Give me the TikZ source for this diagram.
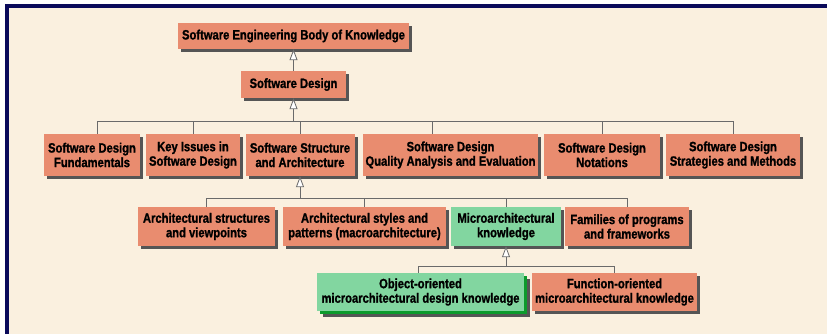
\documentclass[tikz,border=0pt]{standalone}
\usepackage{fontspec}
\setmainfont{Liberation Sans}[FakeStretch=0.83,BoldFeatures={FakeBold=1.2}]
\usetikzlibrary{arrows.meta,shadows}
\definecolor{salmon}{HTML}{E98C6F}
\definecolor{mint}{HTML}{82D6A0}
\definecolor{leaf}{HTML}{0C9A2C}
\definecolor{cream}{HTML}{FAF0DF}
\definecolor{navy}{HTML}{0A0A5A}
\definecolor{shade}{HTML}{555555}
\definecolor{wire}{HTML}{6A6A6A}
\tikzset{
  plain/.style={fill=salmon,inner sep=0pt,align=center,text=black,
    font=\fontsize{13.5}{14.5}\selectfont\bfseries},
  box/.style={plain,
    drop shadow={shadow xshift=3pt,shadow yshift=-3pt,fill=shade,opacity=1}},
  gbox/.style={box,fill=mint},
  conn/.style={draw=wire,line width=0.8pt},
  isa/.style={-{Triangle[open,length=11pt,width=8pt,fill=white]}}
}
\begin{document}
\begin{tikzpicture}[x=1pt,y=-1pt]
  \useasboundingbox (0,0) rectangle (827,334);
  % frame
  \draw[navy,line width=4pt,fill=cream] (7,6.3) rectangle (840,350);
  % top
  \path (293.5,36) node[box,minimum width=231pt,minimum height=26pt] (sebok) {Software Engineering Body of Knowledge};
  \path (293.5,84.5) node[box,minimum width=105pt,minimum height=27pt] (sd) {Software Design};
  % second row
  \path
  (92,155) node[box,minimum width=96pt,minimum height=42pt] (sdf) {Software Design\\Fundamentals}
  (193,155) node[box,minimum width=94pt,minimum height=42pt] (kis) {Key Issues in\\Software Design}
  (300,155) node[box,minimum width=109pt,minimum height=42pt] (ssa) {Software Structure\\and Architecture}
  (450.5,155) node[box,minimum width=175pt,minimum height=42pt] (qae) {Software Design\\Quality Analysis and Evaluation}
  (602,155) node[box,minimum width=116pt,minimum height=42pt] (not) {Software Design\\Notations}
  (733,155) node[box,minimum width=134pt,minimum height=42pt] (sam) {Software Design\\Strategies and Methods};
  % third row
  \path
  (206.5,226.5) node[box,minimum width=137pt,minimum height=39pt] (asv) {Architectural structures\\and viewpoints}
  (364.5,226.5) node[box,minimum width=163pt,minimum height=39pt] (asp) {Architectural styles and\\patterns (macroarchitecture)}
  (506,226.5) node[gbox,minimum width=110pt,minimum height=39pt] (mak) {Microarchitectural\\knowledge}
  (627,226.5) node[box,minimum width=124pt,minimum height=39pt] (fpf) {Families of programs\\and frameworks};
  % fourth row
  \path
  (420.5,292) node[plain,fill=mint,minimum width=207pt,minimum height=38pt,
    drop shadow={shadow xshift=5.5pt,shadow yshift=-5.5pt,fill=shade,opacity=1},
    drop shadow={shadow xshift=3pt,shadow yshift=-3pt,fill=leaf,opacity=1}] (ood) {Object-oriented\\microarchitectural design knowledge}
  (614.5,292) node[box,minimum width=165pt,minimum height=38pt] (fok) {Function-oriented\\microarchitectural knowledge};
  % buses
  \coordinate (b1) at (293.5,121);
  \coordinate (b2) at (300,198);
  \coordinate (b3) at (506,266);
  \draw[conn] ([xshift=5pt]sdf.north) |- (sam.north |- b1) -- (sam.north);
  \draw[conn] ([xshift=-18pt]qae.north) -- ([xshift=-18pt]qae.north |- b1);
  \foreach \n in {kis,ssa,not}
  \draw[conn] (\n.north) -- (\n.north |- b1);
  \draw[conn] (asv.north) |- (fpf.north |- b2) -- (fpf.north);
  \foreach \n in {asp,mak}
  \draw[conn] (\n.north) -- (\n.north |- b2);
  \draw[conn] ([xshift=-2pt]ood.north) |- (fok.north |- b3) -- (fok.north);
  % generalisation arrows
  \draw[conn,isa] (sd.north) -- (sebok.south);
  \draw[conn,isa] (b1) -- (sd.south);
  \draw[conn,isa] (b2) -- (ssa.south);
  \draw[conn,isa] (b3) -- (mak.south);
\end{tikzpicture}
\end{document}
